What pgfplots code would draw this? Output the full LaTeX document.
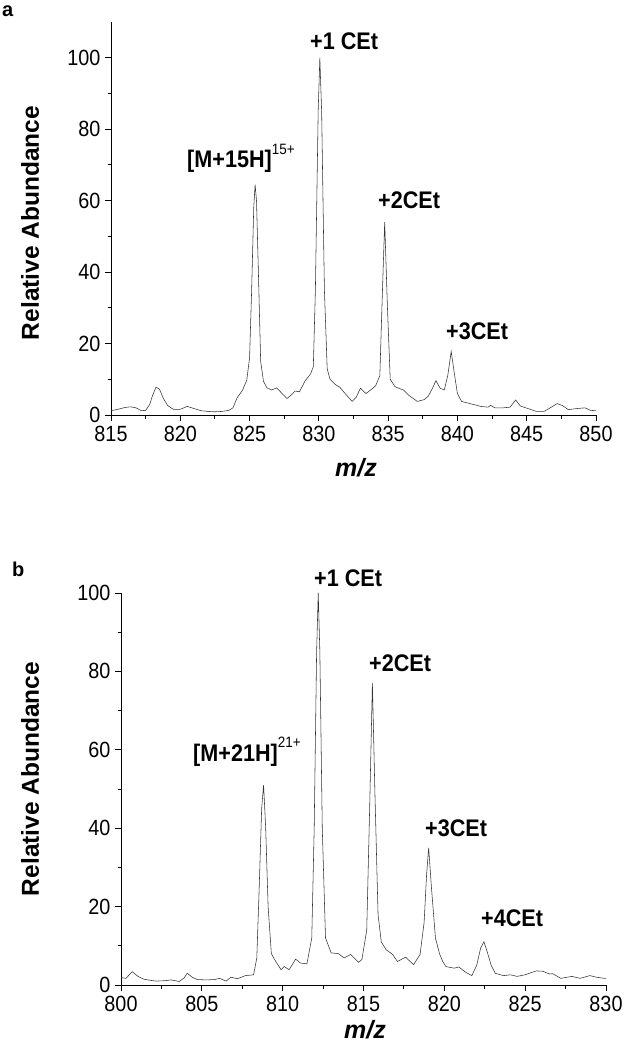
\documentclass[border=0pt]{standalone}
\usepackage{fontspec}
\setmainfont{Liberation Sans}
\newfontfamily\condfont{Liberation Sans}[FakeStretch=0.9]
\usepackage{pgfplots}
\pgfplotsset{compat=1.18}

\pgfplotstableread{
mz val
815.0 1.2
815.5 1.6
816.0 2.1
816.4 2.3
816.8 2.0
817.2 1.2
817.5 1.3
817.8 3.0
818.0 5.5
818.25 7.8
818.5 7.2
818.8 4.5
819.1 2.6
819.5 1.6
820.0 1.6
820.5 2.4
821.0 1.8
821.5 1.2
822.0 1.0
822.5 0.9
823.0 1.0
823.5 1.3
823.8 2.0
824.1 4.8
824.5 7.0
824.8 9.8
825.0 16
825.15 35
825.3 58
825.4 64.5
825.5 60
825.65 38
825.8 15
826.0 9.5
826.25 7.6
826.6 7.0
826.95 7.6
827.3 6.2
827.7 4.6
828.0 5.6
828.3 6.7
828.6 6.5
829.0 9.5
829.4 11.5
829.6 13.5
829.75 35
829.95 85
830.07 100
830.2 85
830.4 35
830.6 13
830.8 10
831.2 8.5
831.5 7.8
831.9 6.0
832.4 3.8
832.7 5.0
833.0 7.5
833.4 6.0
833.8 7.2
834.1 8.2
834.4 11
834.55 30
834.75 54
834.95 30
835.15 10
835.5 7.9
836.1 7.0
836.5 5.5
837.1 3.8
837.6 4.3
837.9 5.3
838.2 7.5
838.45 9.6
838.75 7.5
839.05 7.0
839.3 11
839.55 17.8
839.8 11
840.0 6
840.3 3.8
841.0 3.1
841.7 2.4
842.2 2.2
842.4 2.7
842.7 2.0
843.3 2.0
843.8 2.2
844.2 4.2
844.55 2.5
845.1 1.8
845.7 1.0
846.25 1.0
846.7 2.0
847.2 3.2
847.6 2.6
848.0 1.5
848.6 1.8
849.2 2.0
849.6 1.3
850.0 1.2
}\specA

\pgfplotstableread{
mz val
800.0 1.9
800.3 1.7
800.7 3.4
801.05 2.2
801.4 1.5
801.8 1.2
802.2 1.0
802.7 1.1
803.1 1.3
803.6 0.9
803.9 1.8
804.1 3.0
804.4 2.0
804.7 1.4
805.3 1.3
805.8 1.4
806.1 1.7
806.5 1.0
806.8 2.0
807.2 1.6
807.7 2.4
808.2 2.6
808.4 6.9
808.55 25
808.7 45
808.82 51
808.95 40
809.1 20
809.3 8
809.5 6.5
809.9 3.9
810.1 4.7
810.4 3.9
810.8 6.6
811.1 5.6
811.5 5.4
811.8 12
811.95 40
812.1 85
812.2 100
812.3 85
812.45 40
812.65 12
813.0 8.2
813.45 8.0
813.8 6.9
814.2 7.8
814.7 5.8
814.9 6.5
815.2 14
815.38 45
815.55 77
815.7 50
815.9 18
816.1 11
816.4 9
816.8 7.8
817.1 6.0
817.6 7.1
818.1 5.2
818.5 7.8
818.75 16
818.9 28
819.03 35
819.2 25
819.45 12
819.7 8
819.9 6
820.1 4.7
820.6 4.3
820.9 4.6
821.3 3.3
821.7 2.4
822.0 5
822.25 9.5
822.45 11
822.65 8.5
822.9 5
823.15 3
823.65 2.4
824.1 2.6
824.5 2.2
825.0 2.6
825.4 3.2
825.7 3.6
826.1 3.5
826.5 2.8
826.7 2.9
827.2 1.7
827.9 2.2
828.4 1.7
829.0 2.4
829.4 2.0
829.9 1.7
830.0 1.7
}\specB

\pgfplotsset{msstyle/.style={
  scale only axis,
  width=485pt,
  axis x line*=bottom,
  axis y line*=left,
  tick align=outside,
  major tick length=6pt,
  minor tick length=3.5pt,
  minor x tick num=1,
  minor y tick num=1,
  ymin=0,
  ytick={0,20,...,100},
  every tick/.style={black, line width=0.9pt},
  axis line style={black, line width=1pt},
  ticklabel style={font=\condfont\fontsize{22}{22}\selectfont},
  xticklabel style={yshift=-2pt},
  yticklabel style={xshift=-1pt},
  /pgf/number format/assume math mode=true,
  /pgf/number format/1000 sep={},
  clip=false,
}}

\newcommand{\annfont}{\condfont\bfseries\fontsize{24}{24}\selectfont}
\newcommand{\supfont}{\condfont\mdseries\fontsize{15}{15}\selectfont}

\begin{document}
\begin{tikzpicture}
\useasboundingbox (0,0) rectangle (623pt,-1048pt);

% ---------- panel a ----------
\begin{axis}[msstyle,
  at={(111pt,-415pt)}, anchor=south west,
  height=393pt,
  xmin=815, xmax=850, ymax=110,
  xtick={815,820,...,850}]
\addplot[color=black!80, line width=0.55pt] table[x=mz, y=val] {\specA};
\end{axis}

\node[anchor=base west, inner sep=0, font=\bfseries\fontsize{20}{20}\selectfont] at (2pt,-17pt) {a};
\node[rotate=90, inner sep=0, font=\bfseries\fontsize{24.5}{24.5}\selectfont] at (30pt,-223pt) {Relative Abundance};
\node[inner sep=0, font=\bfseries\itshape\fontsize{25}{25}\selectfont] at (356pt,-468pt) {m/z};
\node[anchor=base west, inner sep=0, font=\annfont] at (187pt,-168pt) {[M+15H]\raisebox{0.55em}{\supfont 15+}};
\node[anchor=base west, inner sep=0, font=\annfont] at (310pt,-50pt) {+1 CEt};
\node[anchor=base west, inner sep=0, font=\annfont] at (378pt,-209pt) {+2CEt};
\node[anchor=base west, inner sep=0, font=\annfont] at (446pt,-339pt) {+3CEt};

% ---------- panel b ----------
\begin{axis}[msstyle,
  at={(121pt,-985pt)}, anchor=south west,
  height=392pt,
  xmin=800, xmax=830, ymax=100,
  xtick={800,805,...,830}]
\addplot[color=black!80, line width=0.55pt] table[x=mz, y=val] {\specB};
\end{axis}

\node[anchor=base west, inner sep=0, font=\bfseries\fontsize{20}{20}\selectfont] at (12pt,-576pt) {b};
\node[rotate=90, inner sep=0, font=\bfseries\fontsize{24.5}{24.5}\selectfont] at (30pt,-779pt) {Relative Abundance};
\node[inner sep=0, font=\bfseries\itshape\fontsize{25}{25}\selectfont] at (365pt,-1030pt) {m/z};
\node[anchor=base west, inner sep=0, font=\annfont] at (193pt,-761pt) {[M+21H]\raisebox{0.55em}{\supfont 21+}};
\node[anchor=base west, inner sep=0, font=\annfont] at (314pt,-586pt) {+1 CEt};
\node[anchor=base west, inner sep=0, font=\annfont] at (369pt,-671pt) {+2CEt};
\node[anchor=base west, inner sep=0, font=\annfont] at (425pt,-836pt) {+3CEt};
\node[anchor=base west, inner sep=0, font=\annfont] at (481pt,-926pt) {+4CEt};
\end{tikzpicture}
\end{document}
